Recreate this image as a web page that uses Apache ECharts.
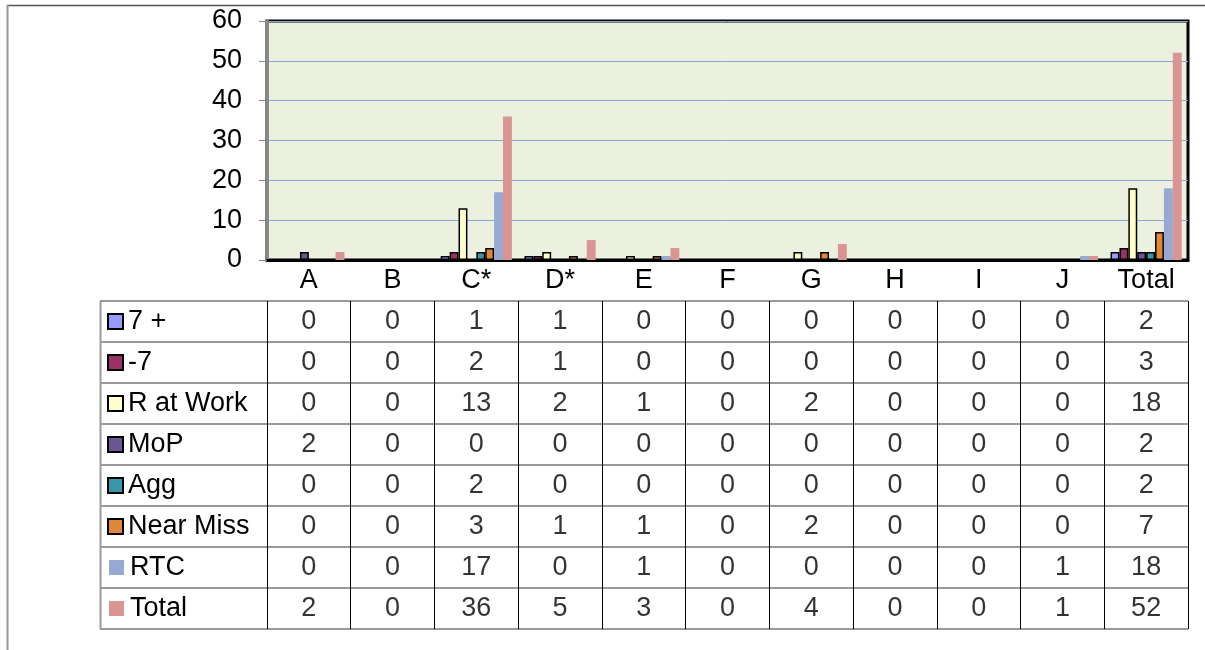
<!DOCTYPE html>
<html>
<head>
    <meta charset="utf-8">
    <title>Incidents by area</title>
    <style>
        html, body { margin: 0; padding: 0; background: #fff; }
        #main { width: 1205px; height: 650px; }
    </style>
</head>
<body>
    <div id="main"></div>
    <script src="https://cdn.jsdelivr.net/npm/echarts@6/dist/echarts.min.js"></script>
    <script>
        // categories along the bottom
        var categories = ['A', 'B', 'C*', 'D*', 'E', 'F', 'G', 'H', 'I', 'J', 'Total'];
        var seriesNames = ['7 +', '-7', 'R at Work', 'MoP', 'Agg', 'Near Miss', 'RTC', 'Total'];

        // values, one array per row of the table
        var sevenPlus  = [0, 0, 1, 1, 0, 0, 0, 0, 0, 0, 2];
        var minusSeven = [0, 0, 2, 1, 0, 0, 0, 0, 0, 0, 3];
        var rAtWork    = [0, 0, 13, 2, 1, 0, 2, 0, 0, 0, 18];
        var moP        = [2, 0, 0, 0, 0, 0, 0, 0, 0, 0, 2];
        var agg        = [0, 0, 2, 0, 0, 0, 0, 0, 0, 0, 2];
        var nearMiss   = [0, 0, 3, 1, 1, 0, 2, 0, 0, 0, 7];
        var rtc        = [0, 0, 17, 0, 1, 0, 0, 0, 0, 1, 18];
        var total      = [2, 0, 36, 5, 3, 0, 4, 0, 0, 1, 52];

        // y axis ticks 0..60
        var yMin = 0, yMax = 60, yStep = 10;

        var allRows = [sevenPlus, minusSeven, rAtWork, moP, agg, nearMiss, rtc, total];
        var colors = ['#9999FF', '#993366', '#FFFFCC', '#6B5592', '#3796A8', '#E0873B', '#95A9D2', '#D99594'];
        var bordered = [true, true, true, true, true, true, false, false];

        var font = "'Liberation Sans', Arial, sans-serif";
        var fs = 27;

        // layout (px)
        var plotLeft = 267, plotRight = 17, plotTop = 21, plotBottom = 260;
        var tableTop = 301, tableBottom = 629, tableLeft = 100;

        var chart = echarts.init(document.getElementById('main'));

        var series = [];
        allRows.forEach(function (vals, i) {
            series.push({
                name: seriesNames[i],
                type: 'bar',
                xAxisIndex: 0,
                yAxisIndex: 0,
                barGap: '0%',
                barCategoryGap: '15%',
                itemStyle: {
                    color: colors[i],
                    borderColor: bordered[i] ? '#000' : 'transparent',
                    borderWidth: bordered[i] ? 1.5 : 0
                },
                // zero bars are not drawn
                data: vals.map(function (v) { return v === 0 ? '-' : v; })
            });
        });

        // table cells
        var cells = [];
        allRows.forEach(function (vals, r) {
            vals.forEach(function (v, c) {
                cells.push([c, r, v]);
            });
        });
        series.push({
            type: 'scatter',
            xAxisIndex: 1,
            yAxisIndex: 1,
            symbolSize: 0,
            silent: true,
            label: {
                show: true,
                position: 'inside',
                color: '#000',
                fontSize: fs,
                fontFamily: font,
                formatter: function (p) { return p.value[2]; }
            },
            data: cells
        });

        // legend squares in the row headers
        var rich = { t: { fontSize: fs, color: '#000', fontFamily: font, padding: [0, 0, 0, 6] } };
        colors.forEach(function (c, i) {
            rich['b' + i] = {
                width: bordered[i] ? 13 : 15,
                height: bordered[i] ? 13 : 15,
                backgroundColor: c,
                borderColor: bordered[i] ? '#000' : c,
                borderWidth: bordered[i] ? 2 : 0
            };
        });

        var option = {
            backgroundColor: '#fff',
            animation: false,
            grid: [
                {
                    left: plotLeft, right: plotRight, top: plotTop, height: plotBottom - plotTop,
                    show: true, backgroundColor: '#EBF0DF', borderColor: '#000', borderWidth: 3
                },
                {
                    left: plotLeft, right: plotRight, top: tableTop, height: tableBottom - tableTop
                }
            ],
            xAxis: [
                {
                    type: 'category', gridIndex: 0, data: categories,
                    axisLine: { lineStyle: { color: '#000', width: 3 } },
                    axisTick: { length: tableTop - plotBottom, lineStyle: { color: '#888' } },
                    axisLabel: { color: '#000', fontSize: fs, fontFamily: font, margin: 7 }
                },
                {
                    type: 'category', gridIndex: 1, data: categories,
                    axisLine: { show: false }, axisTick: { show: false }, axisLabel: { show: false },
                    splitLine: { show: true, interval: 0, lineStyle: { color: '#000', width: 1 } }
                }
            ],
            yAxis: [
                {
                    type: 'value', gridIndex: 0, min: yMin, max: yMax, interval: yStep,
                    axisLine: { show: true, lineStyle: { color: '#888', width: 3 } },
                    axisTick: { show: true, length: 8, lineStyle: { color: '#888' } },
                    axisLabel: { color: '#000', fontSize: fs, fontFamily: font, margin: 25 },
                    splitLine: { lineStyle: { color: '#86A8D6', width: 1 } }
                },
                {
                    type: 'category', gridIndex: 1, data: seriesNames, inverse: true,
                    axisLine: { show: false },
                    axisTick: { show: true, length: plotLeft - tableLeft, lineStyle: { color: '#999', width: 2 } },
                    splitLine: { show: true, interval: 0, lineStyle: { color: '#999', width: 2 } },
                    axisLabel: {
                        align: 'left', margin: plotLeft - tableLeft - 9,
                        formatter: function (value, idx) { return '{b' + idx + '|}{t|' + value + '}'; },
                        rich: rich
                    }
                }
            ],
            graphic: [
                { type: 'line', shape: { x1: 7, y1: 5.5, x2: 1205, y2: 5.5 }, style: { stroke: '#555', lineWidth: 1.5 } },
                { type: 'line', shape: { x1: 7.5, y1: 5, x2: 7.5, y2: 650 }, style: { stroke: '#999', lineWidth: 2 } },
                { type: 'line', shape: { x1: tableLeft + 0.5, y1: tableTop, x2: tableLeft + 0.5, y2: tableBottom }, style: { stroke: '#999', lineWidth: 2 } }
            ],
            series: series
        };

        chart.setOption(option);
        window.addEventListener('resize', function () {
            chart.resize();
        });
    </script>
</body>
</html>
